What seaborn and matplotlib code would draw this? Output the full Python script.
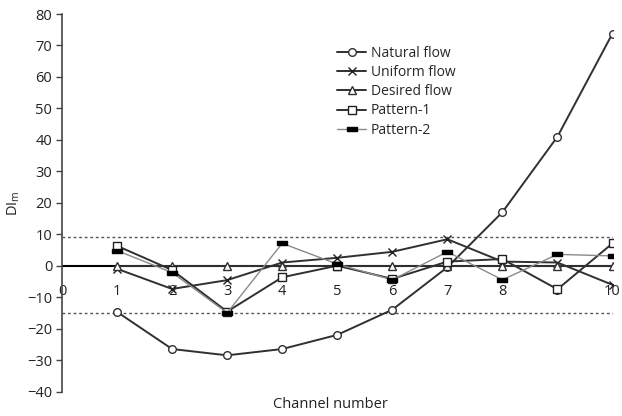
import matplotlib
matplotlib.use('Agg')
from matplotlib import pyplot as plt
from matplotlib.path import Path
import seaborn as sns
import pandas as pd
import numpy as np

channels = [1, 2, 3, 4, 5, 6, 7, 8, 9, 10]
natural_flow = [-14.7, -26.5, -28.5, -26.5, -22, -14, -0.5, 17, 41, 73.8]
uniform_flow = [-1, -7.4, -4.6, 1, 2.5, 4.4, 8.4, 1.3, 1, -6.1]
desired_flow = [0, 0, 0, 0, 0, 0, 0, 0, 0, 0]
pattern_1 = [6.3, -1.4, -14.6, -3.7, 0, -4.2, 1.3, 2.1, -7.5, 7.1]
pattern_2 = [4.8, -2.2, -15, 7.1, 0.5, -4.5, 4.4, -4.5, 3.6, 3.1]
upper_limit = 9
lower_limit = -15

sns.set_style('white')
plt.rcParams['font.family'] = ['Open Sans', 'DejaVu Sans']

df = pd.DataFrame({
    'channel': channels * 5,
    'DI': natural_flow + uniform_flow + desired_flow + pattern_1 + pattern_2,
    'series': (['Natural flow'] * 10 + ['Uniform flow'] * 10 + ['Desired flow'] * 10
               + ['Pattern-1'] * 10 + ['Pattern-2'] * 10),
})

# flat filled rectangle used for Pattern-2
rect = Path([(-1, -0.45), (1, -0.45), (1, 0.45), (-1, 0.45), (-1, -0.45)],
            [Path.MOVETO, Path.LINETO, Path.LINETO, Path.LINETO, Path.CLOSEPOLY])

styles = {
    'Natural flow': dict(color='#303030', lw=1.4, marker='o', ms=5.5, mfc='white', mec='#303030'),
    'Uniform flow': dict(color='#303030', lw=1.4, marker='x', ms=5.5, mfc='none', mec='#202020'),
    'Desired flow': dict(color='#303030', lw=1.4, marker='^', ms=5.5, mfc='white', mec='#303030'),
    'Pattern-1': dict(color='#303030', lw=1.4, marker='s', ms=5.5, mfc='white', mec='#202020'),
    'Pattern-2': dict(color='#8a8a8a', lw=1.0, marker=rect, ms=6.5, mfc='black', mec='black'),
}

fig = plt.figure(figsize=(6.22, 4.16), dpi=100)
ax = fig.add_axes([62 / 622, 1 - 391.5 / 416, 550.5 / 622, 377.5 / 416])

ax.axhline(0, color='black', lw=1.5, zorder=1)
ax.axhline(upper_limit, color='#555555', lw=1.0, ls=(0, (2, 2)), zorder=1)
ax.axhline(lower_limit, color='#555555', lw=1.0, ls=(0, (2, 2)), zorder=1)

for name, st in styles.items():
    sub = df[df['series'] == name]
    sns.lineplot(data=sub, x='channel', y='DI', ax=ax, label=name,
                 color=st['color'], lw=st['lw'], marker=st['marker'],
                 markersize=st['ms'], markerfacecolor=st['mfc'],
                 markeredgecolor=st['mec'], markeredgewidth=1.0, zorder=3)

ax.set_xlim(0, 10)
ax.set_ylim(-40, 80)
ax.set_yticks(np.arange(-40, 81, 10))
ax.set_xticks(range(0, 11))
ax.tick_params(axis='y', direction='out', length=4, width=1, color='#444444',
               labelsize=10.5, labelcolor='#222222', pad=3, left=True)
ax.tick_params(axis='x', length=0, labelsize=10.5, labelcolor='#222222', pad=13)

for s in ['top', 'right']:
    ax.spines[s].set_visible(False)
ax.spines['left'].set_color('#444444')
ax.spines['left'].set_linewidth(1.2)
# category labels sit just under the zero line
ax.spines['bottom'].set_position(('data', 0))
ax.spines['bottom'].set_visible(False)

ax.set_xlabel('')
fig.text(330 / 622, 1 - 405 / 416, 'Channel number', ha='center', va='center',
         fontsize=10.5, color='#222222')
ax.set_ylabel('DI$_\\mathregular{m}$', fontsize=10.5, color='#222222', labelpad=4)

leg = ax.legend(loc='upper left', bbox_to_anchor=(0.49, 0.93), frameon=False,
                fontsize=10, handlelength=2.1, handletextpad=0.3, labelspacing=0.3,
                borderaxespad=0)

fig.savefig('out.png', dpi=100)
